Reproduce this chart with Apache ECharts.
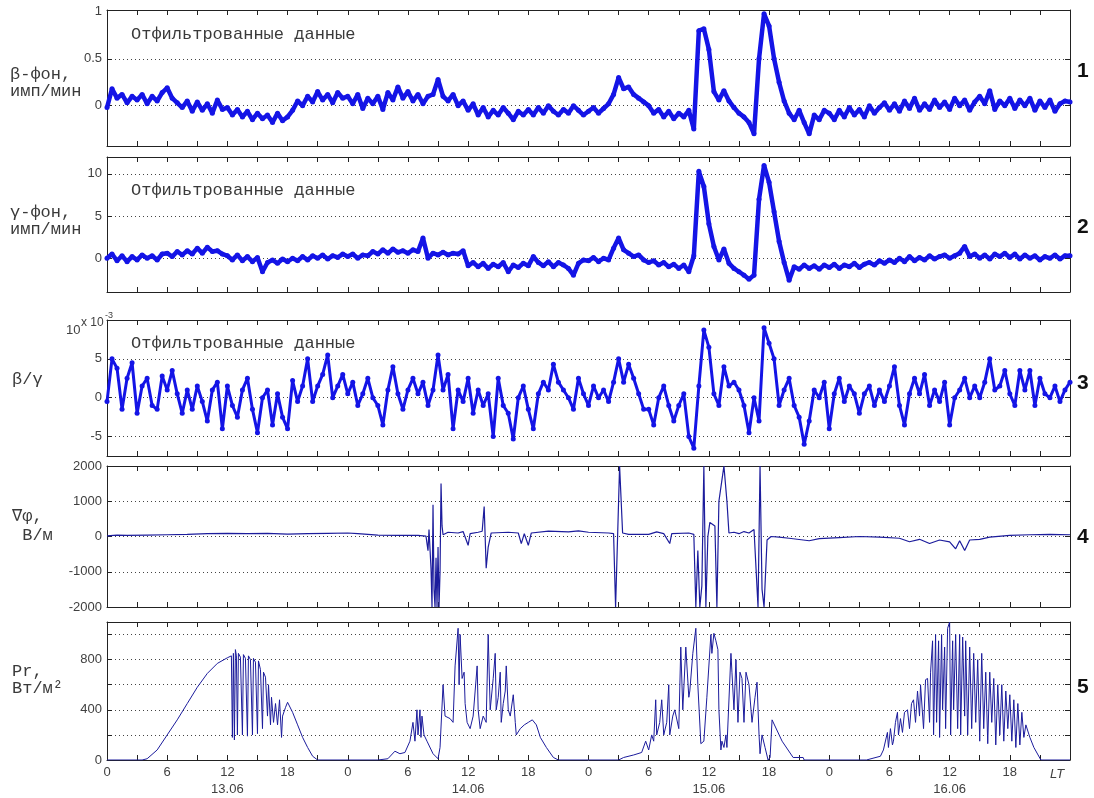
<!DOCTYPE html>
<html>
<head>
<meta charset="utf-8">
<script src="https://cdn.jsdelivr.net/npm/echarts@6/dist/echarts.min.js"></script>
<style>
  html, body { margin: 0; background: #fff; }
  #chart { width: 1094px; height: 798px; }
</style>
</head>
<body>
<div id="chart"></div>
<script>
// filtered series are sampled every half hour, starting at 0 h of 13.06
const STEP = 0.5;

// 1: beta background, counts/min
const betaVals = [
  -0.02, 0.18, 0.08, 0.12, 0.03, 0.1, 0.06, 0.12, 0.02, 0.1, 0.05, 0.14,
  0.19, 0.08, 0.03, -0.02, 0.05, -0.06, 0.04, -0.05, 0.02, -0.08, 0.06, -0.04,
  -0.02, -0.1, -0.04, -0.12, -0.06, -0.15, -0.08, -0.14, -0.1, -0.18, -0.08, -0.16,
  -0.12, -0.05, 0.05, 0.0, 0.1, 0.04, 0.15, 0.06, 0.12, 0.03, 0.14, 0.08,
  0.1, 0.02, 0.12, -0.03, 0.08, 0.02, 0.1, -0.04, 0.14, 0.06, 0.2, 0.08,
  0.15, 0.05, 0.12, 0.02, 0.1, 0.12, 0.28, 0.1, 0.05, 0.12, 0.0, 0.05,
  -0.05, 0.02, -0.1, -0.02, -0.12, -0.05, -0.1, -0.02, -0.08, -0.15, -0.06, -0.1,
  -0.04, -0.1, -0.02, -0.08, 0.0, -0.06, -0.1, -0.04, -0.08, 0.0, -0.05, -0.1,
  -0.06, -0.02, -0.08, -0.03, 0.02, 0.12, 0.3, 0.18, 0.2, 0.12, 0.08, 0.04,
  0.0, -0.08, -0.04, -0.12, -0.06, -0.14, -0.08, -0.12, -0.05, -0.25, 0.8, 0.82,
  0.6, 0.15, 0.06, 0.16, 0.05, -0.02, -0.08, -0.12, -0.18, -0.3, 0.5, 0.98,
  0.85, 0.5, 0.25, 0.05, -0.08, -0.15, -0.05, -0.18, -0.3, -0.1, -0.15, -0.05,
  -0.08, -0.15, -0.05, -0.12, -0.02, -0.1, -0.04, -0.12, 0.0, -0.08, -0.02, 0.03,
  -0.05, 0.02, -0.06, 0.05, -0.03, 0.08, -0.05, 0.02, -0.04, 0.06, -0.02, 0.04,
  -0.04, 0.08, 0.0, 0.06, -0.05, 0.04, 0.1, 0.02, 0.16, -0.04, 0.05, 0.0,
  0.08, -0.03, 0.06, 0.0, 0.08, -0.05, 0.05, -0.02, 0.06, -0.06, 0.02, 0.05,
  0.04
];

// 2: gamma background, counts/min
const gammaVals = [
  0.0, 0.5, -0.3, 0.3, -0.4, 0.2, -0.2, 0.4, 0.0, 0.3, -0.2, 0.5,
  0.6, 0.2, 0.8, 0.4, 0.9, 0.5, 1.2, 0.6, 1.3, 0.8, 0.9, 0.5,
  0.3, -0.2, 0.4, -0.3, 0.2, -0.4, 0.1, -1.6, -0.5, -0.2, -0.6, -0.1,
  -0.4, 0.0, -0.3, 0.2, -0.2, 0.3, 0.0, 0.4, -0.1, 0.3, 0.1, 0.5,
  0.2, 0.5, 0.0, 0.4, 0.3, 0.8, 0.5, 1.0, 0.6, 1.1, 0.7, 0.9,
  0.6, 1.0, 0.8, 2.4, 0.0, 0.6, 0.4, 0.7, 0.4, 0.6, 0.5, 0.9,
  -0.9, -0.5, -1.0, -0.6, -1.2, -0.7, -1.0, -0.5, -1.6, -0.8, -1.1, -0.6,
  -0.9, 0.2, -0.5, -0.9, -0.4, -1.0, -0.5, -0.8, -1.2, -2.0, -0.6, -0.2,
  -0.3, 0.1, -0.4, 0.0, -0.2, 1.2, 2.4, 1.0, 0.6, 0.2, 0.4, -0.2,
  -0.5, -0.3, -0.8, -0.5, -1.0, -0.7, -1.2, -0.8, -1.6, 0.3, 10.3, 8.5,
  4.1, 1.4, -0.2, 1.1, -0.6, -1.2, -1.6, -2.0, -2.5, -2.0, 7.0, 11.0,
  9.0, 5.5, 2.0, -0.5, -2.6, -1.0, -1.3, -0.8, -1.2, -0.9, -1.3, -0.8,
  -1.1, -0.7, -1.2, -0.8, -1.0, -0.6, -1.1, -0.7, -0.5, -0.8, -0.3, -0.6,
  -0.2, -0.5, 0.0, -0.4, 0.2, -0.3, 0.1, -0.2, 0.3, -0.1, 0.2, 0.4,
  0.0, 0.3, 0.6, 1.4, 0.2, 0.5, 0.0, 0.4, -0.1, 0.5, 0.2, 0.6,
  0.1, 0.5, -0.1, 0.4, 0.0, 0.3, -0.2, 0.2, 0.0, 0.4, -0.1, 0.3,
  0.3
];

// 3: beta/gamma ratio, x 10^-3
const ratioVals = [
  -0.5, 5.0, 3.8, -1.5, 2.5, 4.5, -2.0, 1.5, 2.5, -1.0, -1.5, 2.8,
  1.0, 3.5, 0.5, -2.0, 1.0, -1.5, 1.5, -0.5, -3.0, 1.0, 2.0, -4.0,
  1.5, -1.0, -2.5, 1.0, 2.5, -1.5, -4.5, 0.0, 1.0, -3.5, 0.5, -2.5,
  -4.0, 2.2, -0.5, 1.5, 5.0, -0.5, 1.5, 3.0, 5.5, 0.0, 1.5, 3.0,
  0.5, 2.0, -1.0, 0.5, 2.5, 0.0, -1.0, -3.5, 1.0, 4.0, 0.5, -1.5,
  1.0, 2.5, 0.5, 2.0, -1.0, 1.0, 5.5, 1.0, 3.0, -4.0, 1.0, -0.5,
  2.5, -2.0, 1.0, -1.0, 0.5, -5.0, 2.5, -1.0, -2.0, -5.3, 0.0, 1.5,
  -1.5, -4.0, 0.5, 2.0, 1.0, 4.3, 2.0, 1.0, 0.0, -1.5, 2.5, 0.5,
  -1.0, 1.5, 0.0, 1.0, -0.5, 2.0, 5.0, 2.0, 4.3, 2.5, 0.5, -1.5,
  -1.5, -3.5, 0.0, 1.5, -1.0, -3.0, -1.0, 0.5, -5.0, -6.5, 1.5, 8.7,
  6.5, 0.5, -1.0, 4.0, 1.5, 2.0, 1.0, -1.0, -4.5, 0.0, -3.0, 9.0,
  7.0, 5.0, -1.0, 1.0, 2.5, -1.0, -2.5, -6.0, -3.0, 1.0, 0.0, 2.0,
  -4.0, 0.5, 2.5, -0.5, 1.5, 0.5, -2.0, 0.5, 1.5, -1.0, 1.0, -0.5,
  1.5, 4.0, -1.0, -3.5, 0.5, 2.5, 0.5, 3.0, -1.0, 1.0, -0.5, 2.0,
  -3.5, 0.0, 1.0, 2.5, 0.0, 1.5, 0.0, 2.0, 5.0, 1.0, 1.5, 3.5,
  0.5, -1.0, 3.5, 1.0, 3.5, -1.0, 2.5, 0.5, 0.0, 1.5, -0.5, 1.0,
  2.0
];

// 4: potential gradient, V/m  [hour, value]
const gradPhi = [
  [0, 20], [1, 40], [2, 30], [4, 40], [6, 50], [8, 60], [10, 80], [12, 90], [14, 80], [16, 90],
  [18, 70], [20, 80], [22, 90], [24, 100], [25, 80], [27, 40], [29, 30], [31, 30], [31.8, 10],
  [32, -400], [32.1, 200], [32.3, -900], [32.4, -2000], [32.5, 900], [32.6, -1500], [32.7, -2000],
  [32.8, -600], [32.9, -2000], [33.0, -300], [33.1, -2000], [33.2, -1000], [33.3, 1500], [33.4, 300],
  [33.5, 50], [34, 120], [35, 100], [35.5, 140], [36, -250], [36.2, 80], [37, 120], [37.4, 150],
  [37.6, 850], [37.8, -900], [38, -300], [38.3, 100], [40, 120], [41, 100], [41.3, -200], [41.6, 80],
  [42, -250], [42.3, 100], [44, 150], [46, 130], [47, 160], [48, 120], [50, 100], [50.5, 80],
  [50.7, -2000], [51.1, 2000], [51.4, 100], [52, 60], [54, 60], [54.8, 130], [55.5, 80], [56.1, -200],
  [56.3, 80], [58, 100], [58.5, 60], [58.7, -2000], [58.9, -400], [59.1, -2000], [59.3, -1400],
  [59.5, 2000], [59.7, -2000], [59.9, 0], [60.1, 400], [60.6, 300], [60.8, -2000], [61, 1000],
  [61.3, 1600], [61.5, 2000], [61.8, 1000], [62, 100], [62.5, 120], [63, 80], [63.5, 140], [64, 100],
  [64.5, 200], [64.9, -2000], [65.1, 2000], [65.3, -1500], [65.5, -2000], [65.8, -100], [66.2, 0],
  [67, -20], [68, -50], [70, -120], [71, -60], [73, -30], [75, 0], [77, -20], [79, -50], [80, -150],
  [81, -80], [82, -200], [83, -100], [84, -150], [84.6, -350], [85, -120], [85.5, -400], [86, -100],
  [87, -80], [88, -20], [90, 30], [92, 50], [94, 60], [96, 50]
];

// 5: solar radiation, W/m2  [hour, value]
const radiation = [
  [0, 0], [3.5, 0], [4, 10], [5, 80], [6, 200], [7, 320], [8, 450], [9, 580], [10, 690], [11, 770],
  [12, 815], [12.4, 830], [12.5, 180], [12.6, 850], [12.7, 160], [12.8, 880], [12.9, 830], [13, 200],
  [13.1, 850], [13.3, 820], [13.5, 200], [13.6, 840], [13.8, 810], [14, 190], [14.1, 830], [14.3, 800],
  [14.5, 200], [14.6, 810], [14.8, 780], [15, 210], [15.1, 790], [15.3, 720], [15.5, 250], [15.6, 700],
  [15.8, 660], [16, 350], [16.1, 600], [16.3, 280], [16.4, 500], [16.6, 300], [16.8, 450], [17, 280],
  [17.2, 480], [17.4, 180], [17.5, 350], [17.8, 420], [18, 460], [18.5, 380], [19, 280], [19.5, 180],
  [20, 100], [20.5, 30], [21, 0],
  [27, 0], [28, 10], [28.7, 70], [29.2, 50], [29.7, 60], [30.2, 150], [30.5, 300], [30.7, 150],
  [30.9, 400], [31, 200], [31.2, 400], [31.3, 180], [31.4, 350], [31.6, 200], [31.9, 150], [32.5, 50],
  [33, 10], [33.2, 100], [33.5, 600], [33.7, 350], [34.2, 330], [34.5, 300], [34.7, 750], [35, 1050],
  [35.1, 600], [35.2, 1000], [35.4, 650], [35.6, 700], [35.7, 450], [35.9, 300], [36.2, 250],
  [36.5, 350], [36.9, 750], [37, 400], [37.2, 250], [37.5, 350], [37.8, 300], [38, 1000], [38.2, 400],
  [38.5, 650], [38.7, 850], [38.8, 400], [39, 500], [39.2, 700], [39.3, 300], [39.5, 450], [39.7, 550],
  [39.8, 750], [40, 400], [40.2, 350], [40.5, 520], [40.7, 300], [40.8, 200], [41.2, 250], [41.6, 280],
  [42, 300], [42.4, 320], [42.8, 280], [43.2, 180], [43.8, 100], [44.5, 20], [45, 0],
  [51, 0], [51.5, 20], [52.5, 40], [53.3, 60], [53.7, 150], [54, 80], [54.3, 200], [54.5, 150],
  [54.7, 480], [54.8, 200], [55.1, 300], [55.3, 480], [55.5, 200], [55.8, 300], [56, 600], [56.1, 200],
  [56.4, 350], [56.6, 400], [57, 250], [57.2, 900], [57.4, 400], [57.7, 900], [58, 500], [58.1, 550],
  [58.4, 850], [58.7, 1050], [58.9, 600], [59.2, 130], [59.5, 150], [59.8, 500], [60.2, 1000],
  [60.3, 850], [60.5, 1010], [60.7, 950], [60.9, 880], [61, 400], [61.2, 80], [61.3, 150], [61.5, 100],
  [61.7, 200], [61.8, 100], [62.2, 850], [62.3, 700], [62.5, 400], [62.7, 800], [62.9, 300], [63.1, 700],
  [63.3, 650], [63.5, 300], [63.7, 700], [64, 600], [64.3, 300], [64.6, 500], [64.8, 620], [65, 200],
  [65.1, 50], [65.3, 200], [65.6, 100], [65.9, 0], [66.1, 20], [66.3, 320], [67.3, 150], [68.4, 20],
  [69.4, 20], [69.5, 0],
  [75.7, 0], [77.1, 30], [77.4, 80], [77.8, 220], [77.9, 100], [78.1, 250], [78.3, 120], [78.4, 150],
  [78.6, 300], [78.8, 380], [78.9, 200], [79.1, 330], [79.3, 220], [79.5, 380], [79.8, 400], [80, 250],
  [80.2, 450], [80.4, 480], [80.6, 300], [80.8, 550], [81, 350], [81.1, 600], [81.4, 250], [81.6, 640],
  [81.8, 650], [82, 300], [82.1, 700], [82.3, 950], [82.4, 200], [82.6, 1000], [82.7, 300], [82.9, 950],
  [83, 180], [83.2, 1000], [83.3, 400], [83.5, 900], [83.6, 250], [83.8, 1050], [84, 1100], [84.1, 200],
  [84.3, 950], [84.4, 400], [84.6, 1000], [84.8, 250], [85, 1000], [85.1, 200], [85.3, 980], [85.5, 350],
  [85.6, 950], [85.8, 200], [86, 900], [86.2, 250], [86.4, 850], [86.6, 300], [86.8, 800], [87, 150],
  [87.2, 850], [87.4, 250], [87.6, 700], [87.8, 130], [88, 700], [88.2, 300], [88.4, 650], [88.6, 120],
  [88.8, 600], [89, 200], [89.2, 600], [89.4, 150], [89.6, 550], [89.8, 250], [90, 520], [90.2, 150],
  [90.4, 480], [90.6, 100], [90.8, 450], [91, 120], [91.2, 380], [91.4, 180], [91.6, 280], [92, 180],
  [92.4, 100], [93.1, 0], [96, 0]
];

// axis ticks / labels
const hourLabels = [0, 6, 12, 18, 24, 30, 36, 42, 48, 54, 60, 66, 72, 78, 84, 90];
const dayNames = { 12: '13.06', 36: '14.06', 60: '15.06', 84: '16.06' };
const yGrid = [[0, 0.5], [0, 5, 10], [-5, 0, 5], [-1000, 0, 1000], [200, 400, 600, 800, 1000]];
const yLabels = [[0, 0.5, 1], [0, 5, 10], [-5, 0, 5], [-2000, -1000, 0, 1000, 2000], [0, 400, 800]];
const yRange = [[-0.43, 1.02], [-4, 12], [-7.5, 10], [-2000, 2000], [0, 1100]];

const boxes = [
  { top: 10, height: 136 },
  { top: 157, height: 135 },
  { top: 320, height: 136 },
  { top: 466, height: 141 },
  { top: 622, height: 140 }
];

const toPairs = vals => vals.map((v, i) => [i * STEP, v]);
const seriesData = [toPairs(betaVals), toPairs(gammaVals), toPairs(ratioVals), gradPhi, radiation];
const lineWidths = [4.5, 4.5, 3, 1.2, 1];

const labelFont = { color: '#404040', fontSize: 13, fontFamily: '"Liberation Sans", Arial, sans-serif' };
const frame = { show: true, onZero: false, lineStyle: { color: '#222', width: 1 } };
const tick = { show: true, inside: true, length: 5, lineStyle: { color: '#222', width: 1 } };

var myChart = echarts.init(document.getElementById('chart'));

const grid = [], xAxis = [], yAxis = [], series = [];
boxes.forEach((b, k) => {
  grid.push({ left: 107, right: 24, top: b.top, height: b.height, show: false });
  const last = k === boxes.length - 1;
  // bottom and top hour axes, ticks every 3 h pointing inward
  ['bottom', 'top'].forEach(pos => {
    xAxis.push({
      type: 'value', gridIndex: k, position: pos, min: 0, max: 96, interval: 3,
      axisLine: frame,
      axisTick: tick,
      splitLine: { show: false },
      axisLabel: {
        show: last && pos === 'bottom',
        customValues: hourLabels,
        margin: 4,
        lineHeight: 17,
        ...labelFont,
        formatter: v => dayNames[v] ? (v % 24) + '\n' + dayNames[v] : String(v % 24)
      }
    });
  });
  ['left', 'right'].forEach(pos => {
    yAxis.push({
      type: 'value', gridIndex: k, position: pos, min: yRange[k][0], max: yRange[k][1],
      axisLine: frame,
      axisTick: { ...tick, customValues: yGrid[k] },
      splitLine: { show: pos === 'left', lineStyle: { type: [1, 3], color: '#444', width: 1 } },
      axisLabel: { show: pos === 'left', customValues: yLabels[k], margin: 5, ...labelFont,
                   formatter: v => String(v) }
    });
  });
  const dense = k < 3;
  series.push({
    type: 'line', xAxisIndex: 2 * k, yAxisIndex: 2 * k, data: seriesData[k],
    symbol: dense ? 'circle' : 'none', symbolSize: 5,
    itemStyle: { color: '#1414e6' },
    lineStyle: { width: lineWidths[k], color: dense ? '#1414e6' : '#1c1c9c' },
    silent: true, z: 3
  });
});

const mono = '17px "Liberation Mono", "DejaVu Sans Mono", monospace';
const txt = (left, top, text, font, fill, lh) => ({
  type: 'text', left, top, silent: true,
  style: { text, font, fill: fill || '#3a3a3a', lineHeight: lh || 17 }
});

const option = {
  animation: false,
  grid, xAxis, yAxis, series,
  graphic: [
    txt(10, 66, 'β-фон,\nимп/мин', mono),
    txt(10, 204, 'γ-фон,\nимп/мин', mono),
    txt(12, 371, 'β/γ', mono),
    txt(12, 507, '∇φ,\n В/м', mono, null, 19),
    txt(12, 663, 'Pr,\nВт/м²', mono),
    txt(131, 26, 'Отфильтрованные данные', mono),
    txt(131, 182, 'Отфильтрованные данные', mono),
    txt(131, 335, 'Отфильтрованные данные', mono),
    txt(66, 322, '10', '13px "Liberation Sans", Arial', '#404040'),
    txt(81, 314, 'x 10', '12px "Liberation Sans", Arial', '#404040'),
    txt(105, 307, '-3', '9px "Liberation Sans", Arial', '#404040'),
    txt(1050, 766, 'LT', 'italic 13px "Liberation Sans", Arial', '#404040'),
    txt(1077, 61, '1', 'bold 21px "Liberation Sans", Arial', '#111'),
    txt(1077, 217, '2', 'bold 21px "Liberation Sans", Arial', '#111'),
    txt(1077, 373, '3', 'bold 21px "Liberation Sans", Arial', '#111'),
    txt(1077, 527, '4', 'bold 21px "Liberation Sans", Arial', '#111'),
    txt(1077, 677, '5', 'bold 21px "Liberation Sans", Arial', '#111')
  ]
};

myChart.setOption(option);
</script>
</body>
</html>
